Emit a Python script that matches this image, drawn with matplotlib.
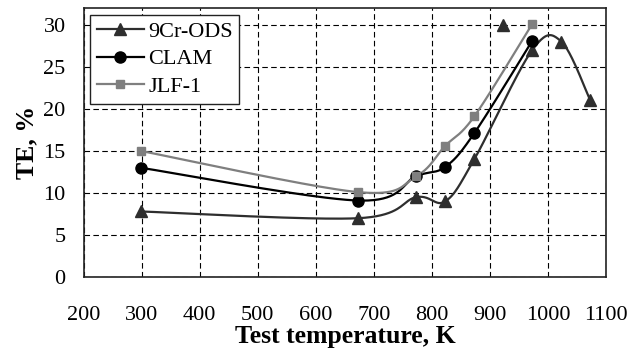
import numpy as np
import matplotlib
matplotlib.use("Agg")
import matplotlib.pyplot as plt

plt.rcParams['font.family'] = ['Liberation Serif', 'DejaVu Serif']

# test temperatures (K) and total elongation (%)
t_ods = [298, 673, 773, 823, 873, 973, 1023, 1073]
te_ods = [7.8, 7.0, 9.5, 9.0, 14.0, 27.0, 28.0, 21.0]
t_ods_extra = [923]
te_ods_extra = [30.0]

t_clam = [298, 673, 773, 823, 873, 973]
te_clam = [13.0, 9.1, 12.0, 13.1, 17.1, 28.1]

t_jlf = [298, 673, 773, 823, 873, 973]
te_jlf = [15.0, 10.1, 12.0, 15.6, 19.1, 30.1]


def smooth(x, y, n=40):
    # Excel-like smoothed line (cubic bezier through the points)
    p = np.column_stack([x, y]).astype(float)
    p = np.vstack([p[0], p, p[-1]])
    out = []
    for i in range(1, len(p) - 2):
        p0, p1, p2, p3 = p[i - 1], p[i], p[i + 1], p[i + 2]
        c1 = p1 + (p2 - p0) / 6
        c2 = p2 - (p3 - p1) / 6
        s = np.linspace(0, 1, n)[:, None]
        seg = (1 - s) ** 3 * p1 + 3 * (1 - s) ** 2 * s * c1 + 3 * (1 - s) * s ** 2 * c2 + s ** 3 * p2
        out.append(seg)
    out = np.vstack(out)
    return out[:, 0], out[:, 1]


fig = plt.figure(figsize=(6.44, 3.58), dpi=100)
ax = fig.add_axes([0.130, 0.226, 0.811, 0.752])

series = [
    (t_ods, te_ods, '#2e2e2e', '^', 9, '9Cr-ODS'),
    (t_clam, te_clam, 'black', 'o', 8, 'CLAM'),
    (t_jlf, te_jlf, '#7f7f7f', 's', 6, 'JLF-1'),
]
for tx, ty, col, mk, ms, lab in series:
    sx, sy = smooth(tx, ty)
    ax.plot(sx, sy, color=col, lw=1.6, zorder=3)
    ax.plot(tx, ty, ls='none', marker=mk, ms=ms, color=col, zorder=4)
    ax.plot([], [], color=col, lw=1.6, marker=mk, ms=ms, label=lab)

ax.plot(t_ods_extra, te_ods_extra, ls='none', marker='^', ms=9, color='#2e2e2e', zorder=4)

ax.set_xlim(200, 1100)
ax.set_ylim(0, 32)
ax.set_xticks(range(200, 1101, 100))
ax.set_yticks(range(0, 31, 5))
ax.grid(True, color='black', ls=(0, (5, 3)), lw=0.8)
ax.tick_params(length=0, labelsize=16)
ax.tick_params(axis='x', pad=21)
ax.tick_params(axis='y', pad=13)
for sp in ax.spines.values():
    sp.set_color('#222222')
    sp.set_linewidth(1.2)

ax.set_xlabel('Test temperature, K', fontsize=18.5, fontweight='bold', labelpad=0)
ax.set_ylabel('TE, %', fontsize=18.5, fontweight='bold', labelpad=4)

leg = ax.legend(loc='upper left', fontsize=16, fancybox=False, framealpha=1,
                edgecolor='#222222', handlelength=2.1, handletextpad=0.2,
                borderpad=0.3, labelspacing=0.32, borderaxespad=0.3)
leg.get_frame().set_linewidth(1.0)

fig.savefig('out.png', dpi=100)
